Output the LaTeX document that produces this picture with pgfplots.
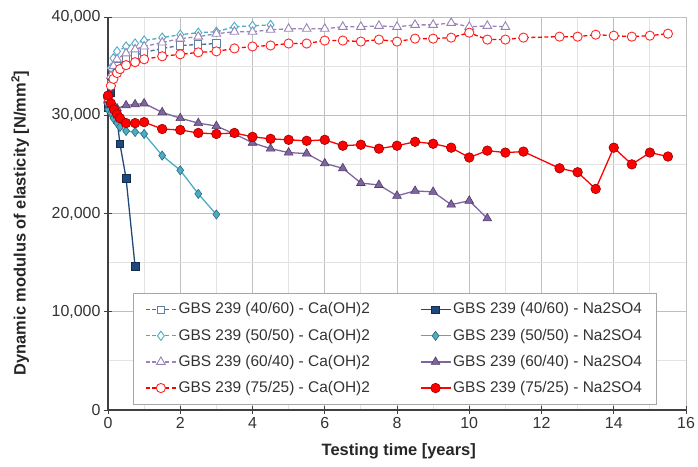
\documentclass[border=0pt]{standalone}
\usepackage{pgfplots}
\pgfplotsset{compat=1.18}
\usepackage{fontspec}
\setmainfont{Liberation Sans}
\definecolor{cblue}{RGB}{31,73,125}
\definecolor{ccyan}{RGB}{75,172,198}
\definecolor{cpurple}{RGB}{128,100,162}
\definecolor{cred}{RGB}{255,0,0}
\begin{document}
\begin{tikzpicture}
\begin{axis}[
  scale only axis, width=578bp, height=393bp,
  xmin=0, xmax=16, ymin=0, ymax=40000,
  xtick={0,2,...,16}, minor xtick={1,3,...,15},
  ytick={0,10000,20000,30000,40000}, minor ytick={5000,15000,25000,35000},
  grid=both,
  major grid style={draw=black!25, line width=0.9pt},
  minor grid style={draw=black!11, line width=0.9pt},
  axis lines*=left,
  axis line style={draw=black!75, line width=1.3pt},
  tick align=center, major tick length=8bp, minor tick length=0bp,
  tick style={draw=black!75, line width=1pt},
  scaled y ticks=false, scaled x ticks=false,
  ticklabel style={font=\fontsize{16}{18}\selectfont, text=black!80},
  yticklabel style={/pgf/number format/.cd, fixed, 1000 sep={,}, assume math mode=true},
  xticklabel style={/pgf/number format/.cd, fixed, assume math mode=true},
  xlabel={Testing time [years]},
  ylabel={Dynamic modulus of elasticity [N/mm\textsuperscript{2}]},
  label style={font=\bfseries\fontsize{16.5}{18}\selectfont, text=black!85},
  xlabel style={at={(axis description cs:0.503,-0.105)}, anchor=center},
  ylabel style={at={(axis description cs:-0.152,0.476)}, anchor=center},
  legend columns=2,
  legend cell align=left,
  legend image code/.code={\draw[mark repeat=2,mark phase=2,#1] plot coordinates {(0bp,0bp) (15bp,0bp) (30bp,0bp)};},
  legend style={at={(axis description cs:0.043,0.014)}, anchor=south west,
    font=\fontsize{15.5}{17}\selectfont, draw=black!35, line width=0.8pt,
    text=black!80, inner xsep=12bp, inner ysep=3bp,
    nodes={text height=12bp, text depth=3.5bp, inner ysep=5.3bp},
    /tikz/every even column/.append style={column sep=48bp}},
  every axis plot/.append style={line width=1.3pt},
]
% 40/60 Ca(OH)2
\addplot[cblue!80, dashed, dash pattern=on 4bp off 2.5bp, mark=square*, mark size=3.6bp, mark options={solid, fill=white, draw=cblue!70, line width=0.9pt}] coordinates {
(0,31000)(0.08,33200)(0.15,34300)(0.25,35000)(0.5,35700)(0.75,36100)(1,36400)(1.5,36800)(2,37100)(2.5,37200)(3,37300)};
\addlegendentry{GBS 239 (40/60) - Ca(OH)2}
% 40/60 Na2SO4
\addplot[cblue, solid, mark=square*, mark size=3.8bp, mark options={fill=cblue, draw=cblue!60!black, line width=0.6pt}] coordinates {
(0,30800)(0.08,32300)(0.15,30500)(0.25,29600)(0.33,27100)(0.5,23600)(0.75,14600)};
\addlegendentry{GBS 239 (40/60) - Na2SO4}
% 50/50 Ca(OH)2
\addplot[ccyan, dashed, dash pattern=on 4bp off 2.5bp, mark=diamond*, mark size=4.6bp, mark options={solid, fill=white, draw=ccyan, line width=0.9pt}] coordinates {
(0,31200)(0.08,34800)(0.15,35800)(0.25,36500)(0.5,37000)(0.75,37300)(1,37600)(1.5,37900)(2,38200)(2.5,38400)(3,38500)(3.5,39000)(4,39100)(4.5,39200)};
\addlegendentry{GBS 239 (50/50) - Ca(OH)2}
% 50/50 Na2SO4
\addplot[ccyan, solid, mark=diamond*, mark size=4.6bp, mark options={fill=ccyan, draw=ccyan!60!black, line width=0.6pt}] coordinates {
(0,30600)(0.08,30200)(0.15,29700)(0.25,29200)(0.33,28800)(0.5,28400)(0.75,28300)(1,28100)(1.5,25900)(2,24400)(2.5,22000)(3,19900)};
\addlegendentry{GBS 239 (50/50) - Na2SO4}
% 60/40 Ca(OH)2
\addplot[cpurple!80, dashed, dash pattern=on 4bp off 2.5bp, mark=triangle*, mark size=5bp, mark options={solid, fill=white, draw=cpurple!80, line width=0.9pt}] coordinates {
(0,31600)(0.08,34000)(0.15,35000)(0.25,35700)(0.5,36300)(0.75,36700)(1,37000)(1.5,37400)(2,37800)(2.5,38000)(3,38300)(3.5,38500)(4,38500)(4.5,38700)(5,38800)(5.5,38800)(6,38800)(6.5,39000)(7,39000)(7.5,39100)(8,39000)(8.5,39200)(9,39200)(9.5,39400)(10,39000)(10.5,39100)(11,39000)};
\addlegendentry{GBS 239 (60/40) - Ca(OH)2}
% 60/40 Na2SO4
\addplot[cpurple, solid, mark=triangle*, mark size=5bp, mark options={fill=cpurple, draw=cpurple!60!black, line width=0.6pt}] coordinates {
(0,31500)(0.08,31000)(0.15,30700)(0.25,30700)(0.5,31000)(0.75,31100)(1,31200)(1.5,30300)(2,29700)(2.5,29200)(3,28900)(3.5,28100)(4,27200)(4.5,26600)(5,26200)(5.5,26100)(6,25100)(6.5,24600)(7,23100)(7.5,22900)(8,21800)(8.5,22300)(9,22200)(9.5,20900)(10,21300)(10.5,19500)};
\addlegendentry{GBS 239 (60/40) - Na2SO4}
% 75/25 Ca(OH)2
\addplot[cred, dashed, dash pattern=on 4bp off 2.5bp, mark=*, mark size=4.6bp, mark options={solid, fill=white, draw=cred!85, line width=0.9pt}] coordinates {
(0,31800)(0.08,33000)(0.15,33700)(0.25,34300)(0.33,34700)(0.5,35100)(0.75,35400)(1,35700)(1.5,36000)(2,36200)(2.5,36400)(3,36500)(3.5,36800)(4,37000)(4.5,37100)(5,37300)(5.5,37300)(6,37600)(6.5,37600)(7,37500)(7.5,37700)(8,37500)(8.5,37800)(9,37800)(9.5,37900)(10,38400)(10.5,37700)(11,37700)(11.5,37900)(12.5,38000)(13,38000)(13.5,38200)(14,38100)(14.5,38000)(15,38100)(15.5,38300)};
\addlegendentry{GBS 239 (75/25) - Ca(OH)2}
% 75/25 Na2SO4
\addplot[cred, solid, mark=*, mark size=4.8bp, mark options={fill=cred, draw=cred!60!black, line width=0.6pt}] coordinates {
(0,32000)(0.08,31200)(0.17,30600)(0.25,30100)(0.33,29700)(0.5,29200)(0.75,29200)(1,29300)(1.5,28600)(2,28500)(2.5,28200)(3,28100)(3.5,28200)(4,27800)(4.5,27600)(5,27500)(5.5,27400)(6,27500)(6.5,26900)(7,27000)(7.5,26600)(8,26900)(8.5,27300)(9,27100)(9.5,26700)(10,25700)(10.5,26400)(11,26200)(11.5,26300)(12.5,24600)(13,24200)(13.5,22500)(14,26700)(14.5,25000)(15,26200)(15.5,25800)};
\addlegendentry{GBS 239 (75/25) - Na2SO4}
\end{axis}
\pgfresetboundingbox
\path (-108bp,-57bp) rectangle (590bp,410bp);
\end{tikzpicture}
\end{document}
